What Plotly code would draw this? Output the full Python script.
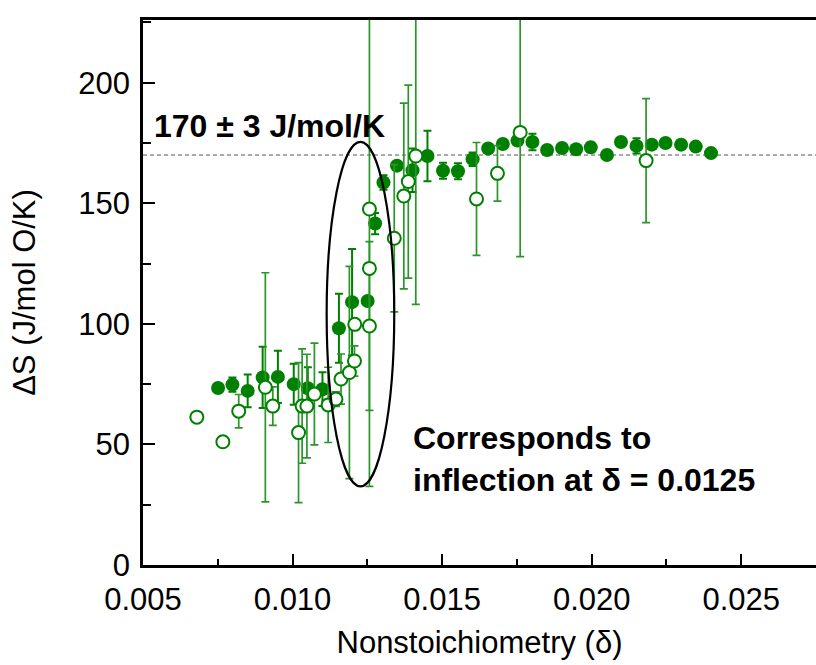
import plotly.graph_objects as go

# Filled circles (delta, dS, error)
x_filled = [0.00751, 0.00799, 0.00850, 0.00900, 0.00951, 0.01004, 0.01051, 0.01100, 0.01155, 0.01199,
            0.01251, 0.01276, 0.01304, 0.01349, 0.01401, 0.01451, 0.01503, 0.01553, 0.01602, 0.01654,
            0.01703, 0.01752, 0.01802, 0.01851, 0.01901, 0.01948, 0.01997, 0.02051, 0.02098, 0.02150,
            0.02201, 0.02247, 0.02299, 0.02348, 0.02399]
y_filled = [73.4, 74.8, 72.2, 77.8, 78.0, 75.0, 73.3, 72.9, 98.2, 109.0,
            109.5, 141.6, 158.6, 165.6, 163.7, 169.6, 163.5, 163.3, 168.3, 172.7,
            174.6, 176.0, 175.4, 172.1, 172.9, 172.4, 173.2, 170.0, 175.4, 173.8,
            174.3, 175.0, 174.3, 173.5, 170.8]
e_filled = [0, 3, 6.8, 12.7, 10.8, 8.5, 8.7, 7, 14.3, 22,
            0, 4.4, 3, 0, 9, 10.5, 3.3, 3.3, 2.8, 0,
            0, 0, 3.4, 0, 0, 0, 2, 0, 0, 3.2,
            0, 0, 0, 0, 0]

# Open circles (delta, dS, error)
x_open = [0.00680, 0.00767, 0.00820, 0.00909, 0.00934, 0.01020, 0.01032, 0.01048, 0.01073, 0.01119,
          0.01145, 0.01162, 0.01190, 0.01207, 0.01208, 0.01257, 0.01257, 0.01257, 0.01340, 0.01372,
          0.01387, 0.01412, 0.01615, 0.01685, 0.01761, 0.02182]
y_open = [61.3, 51.1, 63.8, 73.7, 65.9, 54.9, 65.9, 65.9, 70.9, 66.4,
          68.8, 77.1, 79.8, 84.6, 99.8, 99.1, 123.0, 147.6, 135.5, 153.0,
          159.0, 169.6, 151.8, 162.4, 179.4, 167.7]
e_open = [0, 0, 6.9, 47.5, 8, 29, 23.7, 21.5, 21.1, 15.6,
          3, 10.4, 44, 6.3, 0, 35, 0, 115, 30.5, 38.5,
          40, 61.5, 23.4, 11.5, 51.5, 25.7]

x_ticks = [0.005, 0.010, 0.015, 0.020, 0.025]
x_tick_labels = ["0.005", "0.010", "0.015", "0.020", "0.025"]
y_ticks = [0, 50, 100, 150, 200]

plateau = 170
ellipse_x = [0.01114, 0.01340]
ellipse_y = [32.6, 175.5]

GREEN = "#008000"
FONT = "Arial, Liberation Sans, sans-serif"

fig = go.Figure()
fig.add_trace(go.Scatter(
    x=x_filled, y=y_filled, mode="markers",
    marker=dict(size=14, color=GREEN, line=dict(width=0)),
    error_y=dict(type="data", array=e_filled, visible=True, color=GREEN, thickness=2, width=4),
    showlegend=False))
fig.add_trace(go.Scatter(
    x=x_open, y=y_open, mode="markers",
    marker=dict(size=13, color="white", line=dict(width=2, color=GREEN)),
    error_y=dict(type="data", array=e_open, visible=True, color="#2a962a", thickness=1.7, width=4),
    showlegend=False))

fig.add_shape(type="line", xref="paper", x0=0, x1=1, yref="y", y0=plateau, y1=plateau,
              line=dict(color="#555555", width=1, dash="4px,3px"), layer="below")
fig.add_shape(type="circle", xref="x", yref="y",
              x0=ellipse_x[0], x1=ellipse_x[1], y0=ellipse_y[0], y1=ellipse_y[1],
              line=dict(color="black", width=2.2))

fig.add_annotation(x=0.00531, y=182, xref="x", yref="y", xanchor="left", yanchor="middle",
                   text="<b>170 ± 3 J/mol/K</b>", showarrow=False,
                   font=dict(family=FONT, size=32, color="black"))
fig.add_annotation(x=0.01397, y=44, xref="x", yref="y", xanchor="left", yanchor="middle",
                   align="left", text="<b>Corresponds to<br>inflection at δ = 0.0125</b>",
                   showarrow=False, font=dict(family=FONT, size=32, color="black"))

fig.update_layout(
    width=816, height=665,
    margin=dict(l=143, r=0, t=20, b=100),
    paper_bgcolor="white", plot_bgcolor="white",
    font=dict(family=FONT, color="black"),
)
fig.update_xaxes(
    range=[0.005, 0.0275], tickvals=x_ticks, ticktext=x_tick_labels,
    ticks="inside", ticklen=11, tickwidth=2, tickcolor="black",
    minor=dict(dtick=0.0025, tick0=0.005, ticks="inside", ticklen=6, tickwidth=2, tickcolor="black"),
    showline=True, linecolor="black", linewidth=2.5, mirror=True,
    showgrid=False, zeroline=False,
    tickfont=dict(size=31, family=FONT), ticklabelstandoff=5,
    title=dict(text="Nonstoichiometry (δ)", font=dict(size=31, family=FONT), standoff=16),
)
fig.update_yaxes(
    range=[0, 226], tickvals=y_ticks,
    ticks="inside", ticklen=12, tickwidth=2, tickcolor="black",
    minor=dict(dtick=25, tick0=0, ticks="inside", ticklen=8, tickwidth=2, tickcolor="black"),
    showline=True, linecolor="black", linewidth=2.5, mirror=False,
    showgrid=False, zeroline=False,
    tickfont=dict(size=31, family=FONT), ticklabelstandoff=4,
    title=dict(text="ΔS (J/mol O/K)", font=dict(size=31, family=FONT), standoff=34),
)

fig.write_html("out.html")
